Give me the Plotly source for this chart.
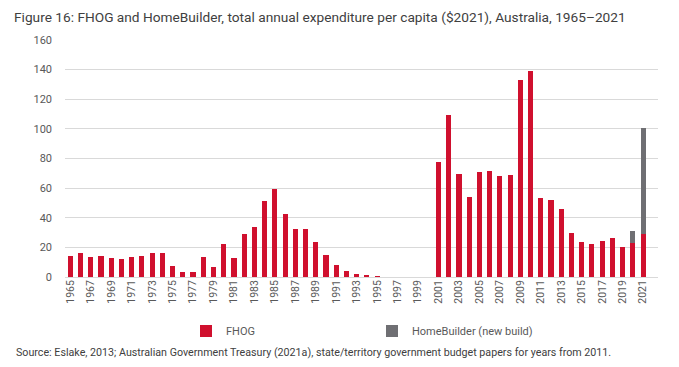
import plotly.graph_objects as go

years = list(range(1965, 2022))
fhog = [14.4, 16.0, 13.3, 14.4, 13.1, 11.9, 13.7, 14.4, 16.0, 16.0,
        7.2, 3.2, 3.4, 13.5, 7.0, 22.3, 12.6, 28.8, 33.8, 51.2,
        59.7, 42.8, 32.2, 32.5, 23.7, 14.6, 8.3, 4.3, 2.0, 0.9,
        0.2, 0, 0, 0, 0, 0, 77.7, 109.1, 69.4, 54.3,
        70.8, 71.9, 68.5, 69.2, 132.7, 138.8, 53.2, 52.3, 45.7, 29.5,
        23.9, 22.5, 24.6, 26.6, 20.5, 23.2, 29.1]
homebuilder = [None] * 55 + [8.1, 71.2]
tick_years = list(range(1965, 2022, 2))
y_ticks = [0, 20, 40, 60, 80, 100, 120, 140, 160]

RED = "#D0102E"
GREY = "#6F6F73"
TXT = "#595959"
FONT = "Roboto, Open Sans, sans-serif"

W, H = 679, 367
L, R, T, B = 65, 21, 40, 90
pw, ph = W - L - R, H - T - B

fig = go.Figure()
fig.add_trace(go.Bar(x=years, y=fhog, name="FHOG", marker=dict(color=RED, line=dict(width=0)), width=0.5))
fig.add_trace(go.Bar(x=years, y=homebuilder, name="HomeBuilder (new build)", marker=dict(color=GREY, line=dict(width=0)), width=0.5))

fig.update_layout(
    width=W, height=H,
    margin=dict(l=L, r=R, t=T, b=B, autoexpand=False),
    barmode="stack",
    plot_bgcolor="white", paper_bgcolor="white",
    font=dict(family=FONT, color=TXT, size=11),
    title=dict(text="Figure 16: FHOG and HomeBuilder, total annual expenditure per capita ($2021), Australia, 1965–2021",
               x=14 / W, xanchor="left", xref="container",
               y=1 - 17 / H, yanchor="middle", yref="container",
               font=dict(family=FONT, size=13.7, color="#404040")),
    xaxis=dict(range=[1964.48, 2022.46], tickmode="array", tickvals=tick_years,
               ticktext=[str(y) for y in tick_years], tickangle=-90,
               showgrid=False, zeroline=False, showline=False, ticks="",
               automargin=False,
               tickfont=dict(size=10.5, color=TXT)),
    yaxis=dict(range=[0, 160], tickmode="array", tickvals=y_ticks,
               showgrid=True, gridcolor="#D9D9D9", gridwidth=1,
               zeroline=True, zerolinecolor="#D9D9D9", zerolinewidth=1,
               showline=False, ticks="", ticklabelstandoff=12,
               automargin=False,
               tickfont=dict(size=11, color=TXT)),
    legend=dict(orientation="h", x=(186 - L) / pw, xanchor="left",
                y=-(331 - (T + ph)) / ph, yanchor="middle",
                entrywidth=141, entrywidthmode="pixels",
                font=dict(size=11, color=TXT), traceorder="normal"),
    showlegend=True,
    annotations=[dict(text="Source: Eslake, 2013; Australian Government Treasury (2021a), state/territory government budget papers for years from 2011.",
                      xref="paper", yref="paper", x=(14 - L) / pw, y=-(352 - (T + ph)) / ph,
                      xanchor="left", yanchor="middle", showarrow=False,
                      font=dict(family=FONT, size=10.7, color="#404040"))],
)

fig.write_html("out.html", config={"displayModeBar": False},
               post_script="document.body.style.margin='0';")
